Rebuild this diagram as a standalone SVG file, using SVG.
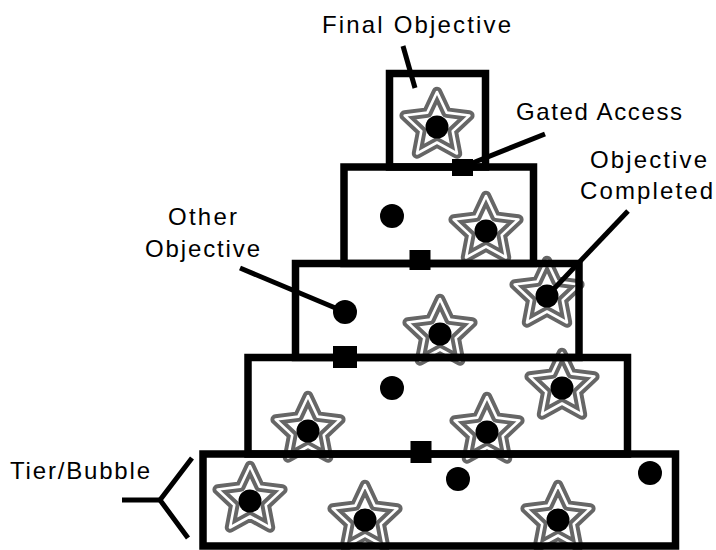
<svg xmlns="http://www.w3.org/2000/svg" xmlns:xlink="http://www.w3.org/1999/xlink" width="716" height="550" viewBox="0 0 716 550">
  <style>
    .label { font-family: "Liberation Sans", Arial, sans-serif; font-size: 24px; fill: #000; }
    .band { fill: none; stroke: #666; stroke-width: 10.5; stroke-linejoin: round; }
    .line { fill: none; stroke: #fff; stroke-width: 2.6; stroke-linejoin: round; }
    .dot { fill: #000; }
    .gate { fill: #000; }
    .leader { fill: none; stroke: #000; stroke-width: 5; stroke-linecap: butt; stroke-linejoin: miter; }
  </style>
  <defs>
    <filter id="soft" x="-20%" y="-20%" width="140%" height="140%">
      <feGaussianBlur stdDeviation="0.6"/>
    </filter>
    <g id="star">
      <path class="band" d="M0,-34 L9.70,-13.35 L32.34,-10.51 L15.69,5.10 L19.98,27.51 L0,16.5 L-19.98,27.51 L-15.69,5.10 L-32.34,-10.51 L-9.70,-13.35 Z"/>
      <path class="line" d="M0,-34 L9.70,-13.35 L32.34,-10.51 L15.69,5.10 L19.98,27.51 L0,16.5 L-19.98,27.51 L-15.69,5.10 L-32.34,-10.51 L-9.70,-13.35 Z"/>
    </g>
  </defs>

  <rect width="716" height="550" fill="#fff"/>

  <!-- tiers (fills) -->
  <g id="tiers" fill="#fff" stroke="none">
    <g id="tier-5"><rect id="r5" x="203" y="454" width="472.5" height="92"/></g>
    <g id="tier-4"><rect id="r4" x="248" y="357.5" width="379.5" height="96.5"/></g>
    <g id="tier-3"><rect id="r3" x="295.5" y="263.5" width="283.5" height="94"/></g>
    <g id="tier-2"><rect id="r2" x="344" y="167" width="189.5" height="96.5"/></g>
    <g id="tier-1"><rect id="r1" x="389.5" y="73.5" width="96" height="93.5"/></g>
  </g>

  <!-- objectives -->
  <g id="objectives">
    <g id="final-objective"><use xlink:href="#star" href="#star" transform="translate(437,126)" filter="url(#soft)"/><circle class="dot" cx="437" cy="127" r="11.5"/></g>
    <g id="star-2"><use xlink:href="#star" href="#star" transform="translate(486,230)" filter="url(#soft)"/><circle class="dot" cx="486" cy="231" r="11.5"/></g>
    <g id="star-3"><use xlink:href="#star" href="#star" transform="translate(547,295)" filter="url(#soft)"/><circle class="dot" cx="547" cy="296" r="11.5"/></g>
    <g id="star-4"><use xlink:href="#star" href="#star" transform="translate(440,333)" filter="url(#soft)"/><circle class="dot" cx="440" cy="334" r="11.5"/></g>
    <g id="star-5"><use xlink:href="#star" href="#star" transform="translate(308,430)" filter="url(#soft)"/><circle class="dot" cx="308" cy="431" r="11.5"/></g>
    <g id="star-6"><use xlink:href="#star" href="#star" transform="translate(487,431)" filter="url(#soft)"/><circle class="dot" cx="487" cy="432" r="11.5"/></g>
    <g id="star-7"><use xlink:href="#star" href="#star" transform="translate(562,387)" filter="url(#soft)"/><circle class="dot" cx="562" cy="388" r="11.5"/></g>
    <g id="star-8"><use xlink:href="#star" href="#star" transform="translate(250,500)" filter="url(#soft)"/><circle class="dot" cx="250" cy="501" r="11.5"/></g>
    <g id="star-9"><use xlink:href="#star" href="#star" transform="translate(365,519)" filter="url(#soft)"/><circle class="dot" cx="365" cy="520" r="11.5"/></g>
    <g id="star-10"><use xlink:href="#star" href="#star" transform="translate(558,519)" filter="url(#soft)"/><circle class="dot" cx="558" cy="520" r="11.5"/></g>
    <g id="dot-1"><circle class="dot" cx="392" cy="216" r="12"/></g>
    <g id="other-objective"><circle class="dot" cx="345" cy="312" r="12"/></g>
    <g id="dot-3"><circle class="dot" cx="392" cy="388" r="12"/></g>
    <g id="dot-4"><circle class="dot" cx="458" cy="479" r="12"/></g>
    <g id="dot-5"><circle class="dot" cx="650" cy="473" r="12"/></g>
  </g>

  <!-- tier outlines -->
  <g id="tier-outlines" fill="none" stroke="#000" stroke-width="7.5">
    <use xlink:href="#r5" href="#r5"/>
    <use xlink:href="#r4" href="#r4"/>
    <use xlink:href="#r3" href="#r3"/>
    <use xlink:href="#r2" href="#r2"/>
    <use xlink:href="#r1" href="#r1"/>
  </g>

  <!-- gates -->
  <g id="gates">
    <rect id="gate-1" class="gate" x="452" y="159" width="21" height="17"/>
    <rect id="gate-2" class="gate" x="409.5" y="250" width="21" height="20"/>
    <rect id="gate-3" class="gate" x="333" y="346" width="24" height="22"/>
    <rect id="gate-4" class="gate" x="410.5" y="441" width="21" height="22"/>
  </g>

  <!-- connectors -->
  <g id="connectors">
    <line class="leader" x1="403" y1="46" x2="415" y2="88"/>
    <line class="leader" x1="545" y1="134" x2="465" y2="166"/>
    <line class="leader" x1="628" y1="211" x2="549" y2="294"/>
    <line class="leader" x1="240" y1="268" x2="345" y2="312"/>
    <polyline class="leader" points="192,458 160,500 188,538"/>
    <line class="leader" x1="122" y1="500" x2="160" y2="500"/>
  </g>

  <!-- labels -->
  <g id="labels">
    <text class="label" x="322" y="33" textLength="189" lengthAdjust="spacing">Final Objective</text>
    <text class="label" x="516" y="120" textLength="166" lengthAdjust="spacing">Gated Access</text>
    <text class="label" x="590" y="168" textLength="117" lengthAdjust="spacing">Objective</text>
    <text class="label" x="580" y="199" textLength="133" lengthAdjust="spacing">Completed</text>
    <text class="label" x="168" y="225" textLength="69" lengthAdjust="spacing">Other</text>
    <text class="label" x="145" y="257" textLength="115" lengthAdjust="spacing">Objective</text>
    <text class="label" x="10" y="479" textLength="140" lengthAdjust="spacing">Tier/Bubble</text>
  </g>
</svg>
